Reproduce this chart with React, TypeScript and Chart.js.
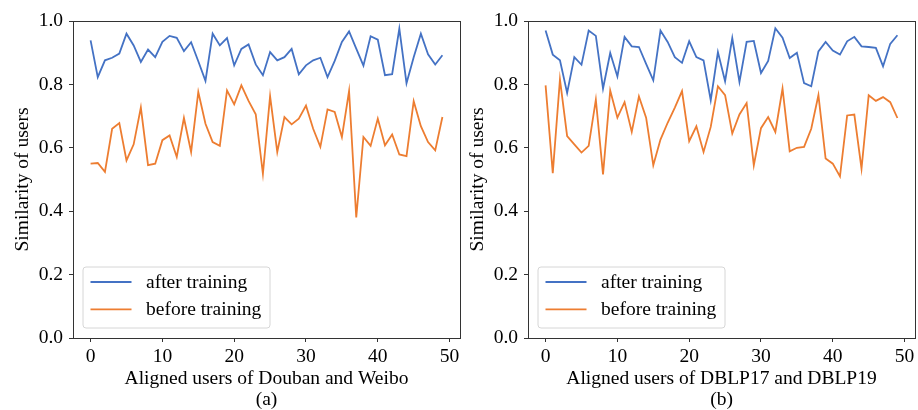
import React, { useEffect, useRef } from "react";
import { Chart, registerables } from "chart.js";

Chart.register(...registerables);

const users = Array.from({ length: 50 }, (_, i) => i);

const afterA = [
  0.939, 0.823, 0.876, 0.884, 0.897, 0.960, 0.923, 0.871, 0.910, 0.886,
  0.934, 0.953, 0.947, 0.905, 0.933, 0.873, 0.811, 0.960, 0.923, 0.946,
  0.860, 0.912, 0.926, 0.863, 0.829, 0.902, 0.876, 0.886, 0.912, 0.832,
  0.860, 0.876, 0.884, 0.823, 0.874, 0.934, 0.967, 0.913, 0.859, 0.952,
  0.941, 0.829, 0.832, 0.976, 0.804, 0.886, 0.960, 0.895, 0.863, 0.892,
];
const beforeA = [
  0.550, 0.552, 0.524, 0.660, 0.678, 0.560, 0.611, 0.727, 0.545, 0.550,
  0.624, 0.639, 0.571, 0.694, 0.587, 0.776, 0.676, 0.618, 0.606, 0.781,
  0.737, 0.797, 0.748, 0.706, 0.518, 0.763, 0.587, 0.697, 0.674, 0.692,
  0.733, 0.660, 0.603, 0.721, 0.713, 0.634, 0.779, 0.380, 0.634, 0.606,
  0.692, 0.608, 0.642, 0.579, 0.574, 0.747, 0.668, 0.618, 0.592, 0.697,
];
const afterB = [
  0.970, 0.894, 0.876, 0.773, 0.886, 0.862, 0.970, 0.953, 0.787, 0.899,
  0.825, 0.950, 0.920, 0.918, 0.865, 0.813, 0.970, 0.934, 0.886, 0.868,
  0.936, 0.886, 0.876, 0.750, 0.902, 0.810, 0.946, 0.808, 0.934, 0.937,
  0.836, 0.874, 0.977, 0.947, 0.883, 0.900, 0.804, 0.794, 0.904, 0.934,
  0.907, 0.894, 0.936, 0.950, 0.920, 0.918, 0.915, 0.857, 0.928, 0.955,
];
const beforeB = [
  0.797, 0.520, 0.816, 0.637, 0.611, 0.585, 0.606, 0.752, 0.516, 0.781,
  0.695, 0.744, 0.650, 0.762, 0.695, 0.545, 0.626, 0.679, 0.727, 0.779,
  0.621, 0.668, 0.587, 0.666, 0.794, 0.766, 0.645, 0.705, 0.741, 0.545,
  0.662, 0.697, 0.650, 0.787, 0.589, 0.600, 0.603, 0.660, 0.766, 0.566,
  0.550, 0.510, 0.702, 0.705, 0.534, 0.766, 0.748, 0.760, 0.744, 0.694,
];

const xTicks = [0, 10, 20, 30, 40, 50];
const yTicks = [0, 0.2, 0.4, 0.6, 0.8, 1.0];
const seriesLabels = ["after training", "before training"];
const panelA = { title: ["Aligned users of Douban and Weibo", "(a)"] };
const panelB = { title: ["Aligned users of DBLP17 and DBLP19", "(b)"] };

const BLUE = "#4472C4";
const ORANGE = "#ED7D31";
const FONT = "'Liberation Serif', 'Times New Roman', serif";
const FS = 19.5;
const SPINE = "#333333";

const framePlugin = {
  id: "frameLegend",
  afterDraw(chart: any) {
    const { ctx, chartArea: ca } = chart;
    ctx.save();
    ctx.strokeStyle = SPINE;
    ctx.lineWidth = 1;
    ctx.strokeRect(
      Math.round(ca.left) + 0.5,
      Math.round(ca.top) + 0.5,
      Math.round(ca.right) - Math.round(ca.left),
      Math.round(ca.bottom) - Math.round(ca.top)
    );
    const bx = ca.left + 10;
    const bw = 187;
    const bh = 61;
    const by = ca.bottom - 10 - bh;
    const r = 3;
    ctx.beginPath();
    ctx.moveTo(bx + r, by);
    ctx.lineTo(bx + bw - r, by);
    ctx.quadraticCurveTo(bx + bw, by, bx + bw, by + r);
    ctx.lineTo(bx + bw, by + bh - r);
    ctx.quadraticCurveTo(bx + bw, by + bh, bx + bw - r, by + bh);
    ctx.lineTo(bx + r, by + bh);
    ctx.quadraticCurveTo(bx, by + bh, bx, by + bh - r);
    ctx.lineTo(bx, by + r);
    ctx.quadraticCurveTo(bx, by, bx + r, by);
    ctx.closePath();
    ctx.fillStyle = "rgba(255,255,255,0.8)";
    ctx.fill();
    ctx.strokeStyle = "#d6d6d6";
    ctx.stroke();
    chart.data.datasets.forEach((ds: any, i: number) => {
      const yy = by + 15 + i * 27.3;
      ctx.beginPath();
      ctx.strokeStyle = ds.borderColor;
      ctx.lineWidth = 1.8;
      ctx.moveTo(bx + 7.5, yy);
      ctx.lineTo(bx + 48.5, yy);
      ctx.stroke();
      ctx.fillStyle = "#000";
      ctx.font = `${FS}px ${FONT}`;
      ctx.textBaseline = "middle";
      ctx.textAlign = "left";
      ctx.fillText(ds.label, bx + 63, yy + 1);
    });
    ctx.restore();
  },
};

function makeConfig(after: number[], before: number[], title: string[]): any {
  return {
    type: "line",
    data: {
      datasets: [
        {
          label: seriesLabels[0],
          data: after.map((v, i) => ({ x: users[i], y: v })),
          borderColor: BLUE,
          borderWidth: 1.8,
          pointRadius: 0,
          tension: 0,
          fill: false,
        },
        {
          label: seriesLabels[1],
          data: before.map((v, i) => ({ x: users[i], y: v })),
          borderColor: ORANGE,
          borderWidth: 1.8,
          pointRadius: 0,
          tension: 0,
          fill: false,
        },
      ],
    },
    options: {
      responsive: false,
      animation: false,
      devicePixelRatio: 1,
      layout: { padding: { top: 21, right: 3, left: 0, bottom: 0 } },
      plugins: { legend: { display: false }, tooltip: { enabled: false } },
      scales: {
        x: {
          type: "linear",
          min: -2.45,
          max: 51.45,
          afterBuildTicks: (s: any) => {
            s.ticks = xTicks.map((v) => ({ value: v }));
          },
          afterFit: (s: any) => {
            s.height = 72;
          },
          border: { display: false },
          grid: {
            display: true,
            drawOnChartArea: false,
            drawTicks: true,
            tickLength: 4,
            color: SPINE,
          },
          ticks: {
            padding: 3,
            color: "#000",
            font: { family: FONT, size: FS },
            maxRotation: 0,
            autoSkip: false,
            callback: (v: any) => String(v),
          },
          title: {
            display: true,
            text: title,
            color: "#000",
            font: { family: FONT, size: FS, lineHeight: "21px" },
            padding: { top: 0, bottom: 0 },
          },
        },
        y: {
          type: "linear",
          min: 0,
          max: 1,
          afterBuildTicks: (s: any) => {
            s.ticks = yTicks.map((v) => ({ value: v }));
          },
          afterFit: (s: any) => {
            s.width = 73;
          },
          border: { display: false },
          grid: {
            display: true,
            drawOnChartArea: false,
            drawTicks: true,
            tickLength: 4,
            color: SPINE,
          },
          ticks: {
            padding: 6,
            color: "#000",
            font: { family: FONT, size: FS },
            autoSkip: false,
            callback: (v: any) => Number(v).toFixed(1),
          },
          title: {
            display: true,
            text: "Similarity of users",
            color: "#000",
            font: { family: FONT, size: FS },
            padding: { top: 11, bottom: 0 },
          },
        },
      },
    },
    plugins: [framePlugin],
  };
}

function Panel(props: { after: number[]; before: number[]; title: string[]; left: number }) {
  const ref = useRef<HTMLCanvasElement | null>(null);
  useEffect(() => {
    if (!ref.current) return;
    const chart = new Chart(ref.current, makeConfig(props.after, props.before, props.title));
    return () => chart.destroy();
  }, []);
  return (
    <canvas
      ref={ref}
      width={463}
      height={410}
      style={{ position: "absolute", left: props.left, top: 0, width: 463, height: 410 }}
    />
  );
}

export default function App() {
  return (
    <div
      style={{
        position: "absolute",
        left: 0,
        top: 0,
        width: 918,
        height: 410,
        background: "#fff",
        overflow: "hidden",
      }}
    >
      <Panel after={afterA} before={beforeA} title={panelA.title} left={0} />
      <Panel after={afterB} before={beforeB} title={panelB.title} left={455} />
    </div>
  );
}
